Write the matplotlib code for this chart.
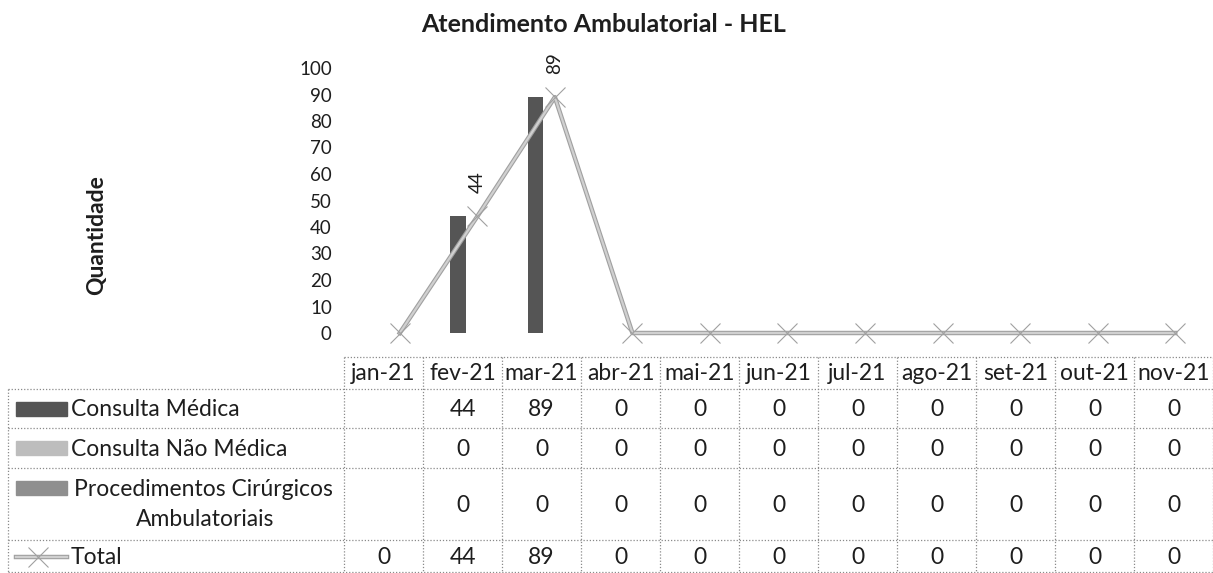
import numpy as np
import matplotlib
matplotlib.use("Agg")
import matplotlib.pyplot as plt
from matplotlib.patches import Rectangle

plt.rcParams['font.family'] = ['Lato', 'DejaVu Sans']

months = ["jan-21", "fev-21", "mar-21", "abr-21", "mai-21", "jun-21",
          "jul-21", "ago-21", "set-21", "out-21", "nov-21"]
consulta_medica = [None, 44, 89, 0, 0, 0, 0, 0, 0, 0, 0]
consulta_nao_medica = [None, 0, 0, 0, 0, 0, 0, 0, 0, 0, 0]
procedimentos = [None, 0, 0, 0, 0, 0, 0, 0, 0, 0, 0]
total = [0, 44, 89, 0, 0, 0, 0, 0, 0, 0, 0]
y_ticks = [0, 10, 20, 30, 40, 50, 60, 70, 80, 90, 100]

W, H = 1213, 573
fig = plt.figure(figsize=(W / 100, H / 100), dpi=100)
fig.patch.set_facecolor('white')

c_cm = '#555555'
c_cnm = '#bdbdbd'
c_proc = '#8f8f8f'
c_tot_edge = '#a0a0a0'
c_tot = '#d0d0d0'
txt = '#1e1e1e'

# main chart axes (pixel geometry)
ax_l, ax_r, ax_t, ax_b = 361, 1214, 68, 333
ax = fig.add_axes([ax_l / W, 1 - ax_b / H, (ax_r - ax_l) / W, (ax_b - ax_t) / H])
ax.set_xlim(-0.5, 10.5)
ax.set_ylim(0, 100)
for s in ax.spines.values():
    s.set_visible(False)
ax.set_xticks([])
ax.set_yticks(y_ticks)
ax.tick_params(axis='y', length=0, pad=21, labelsize=13.5, labelcolor=txt)

x = np.arange(len(months))
def vals(v):
    return np.array([np.nan if a is None else a for a in v], dtype=float)

bw = 0.2
ax.bar(x - 0.25, vals(consulta_medica), width=bw, color=c_cm, zorder=2)
ax.bar(x - 0.05, vals(consulta_nao_medica), width=bw, color=c_cnm, zorder=2)
ax.bar(x + 0.15, vals(procedimentos), width=bw, color=c_proc, zorder=2)
ax.plot(x, total, color=c_tot_edge, lw=3.2, zorder=3, clip_on=False)
ax.plot(x, total, color=c_tot, lw=1.6, marker='x', markersize=14,
        markeredgecolor='#a0a0a0', markeredgewidth=0.8, zorder=4, clip_on=False)
for xi, v in zip(x, total):
    if v > 0:
        ax.annotate(str(v), (xi, v), xytext=(0, 17), textcoords='offset points',
                    rotation=90, ha='center', va='bottom', fontsize=13.5,
                    color=txt, annotation_clip=False)

fig.text(604 / W, 1 - 25 / H, "Atendimento Ambulatorial - HEL", ha='center',
         va='center', fontsize=18, fontweight='bold', color=txt)
fig.text(97 / W, 1 - 235 / H, "Quantidade", rotation=90, ha='center',
         va='center', fontsize=16.5, fontweight='bold', color=txt)

# table overlay
tab = fig.add_axes([0, 0, 1, 1], zorder=-1)
tab.set_xlim(0, W)
tab.set_ylim(H, 0)
tab.axis('off')

col0, colw = 344, 79
lab_l = 8
rows = [357, 389, 428, 468, 540, 572]
gcol = '#8a8a8a'
ls = dict(color=gcol, lw=0.9, ls=(0, (1, 1.5)))
col_r = col0 + colw * len(months)
tab.plot([col0, col_r], [rows[0], rows[0]], **ls)
for r in rows[1:]:
    tab.plot([lab_l, col_r], [r, r], **ls)
for i in range(len(months) + 1):
    xc = col0 + colw * i
    tab.plot([xc, xc], [rows[0], rows[-1]], **ls)
tab.plot([lab_l, lab_l], [rows[1], rows[-1]], **ls)

fs = 16.5
for i, m in enumerate(months):
    tab.text(col0 + colw * (i + 0.5), (rows[0] + rows[1]) / 2 + 1, m,
             ha='center', va='center', fontsize=fs, color=txt)

data_rows = [consulta_medica, consulta_nao_medica, procedimentos, total]
for r, series in enumerate(data_rows):
    yc = (rows[r + 1] + rows[r + 2]) / 2 + 1
    for i, v in enumerate(series):
        if v is not None:
            tab.text(col0 + colw * (i + 0.5), yc, str(v), ha='center',
                     va='center', fontsize=fs, color=txt)

# legend keys
sw_l, sw_r = 16, 67
for r, col in enumerate([c_cm, c_cnm, c_proc]):
    yc = (rows[r + 1] + rows[r + 2]) / 2
    if r == 2:
        yc = 488
    tab.add_patch(Rectangle((sw_l, yc - 7), sw_r - sw_l, 14, color=col))
yc_tot = 557
tab.plot([sw_l, sw_r], [yc_tot, yc_tot], color=c_tot_edge, lw=3.2)
tab.plot([sw_l, sw_r], [yc_tot, yc_tot], color=c_tot, lw=1.6)
tab.plot([(sw_l + sw_r) / 2 - 4], [yc_tot], marker='x', markersize=14,
         color='#a0a0a0', markeredgewidth=0.8)

tab.text(71, (rows[1] + rows[2]) / 2 + 1, "Consulta Médica", ha='left',
         va='center', fontsize=fs, color=txt)
tab.text(71, (rows[2] + rows[3]) / 2 + 1, "Consulta Não Médica", ha='left',
         va='center', fontsize=fs, color=txt)
tab.text(203, 489, "Procedimentos Cirúrgicos", ha='center', va='center',
         fontsize=fs, color=txt)
tab.text(205, 520, "Ambulatoriais", ha='center', va='center', fontsize=fs,
         color=txt)
tab.text(71, yc_tot + 1, "Total", ha='left', va='center', fontsize=fs,
         color=txt)

fig.savefig("out.png", dpi=100, facecolor='white')
